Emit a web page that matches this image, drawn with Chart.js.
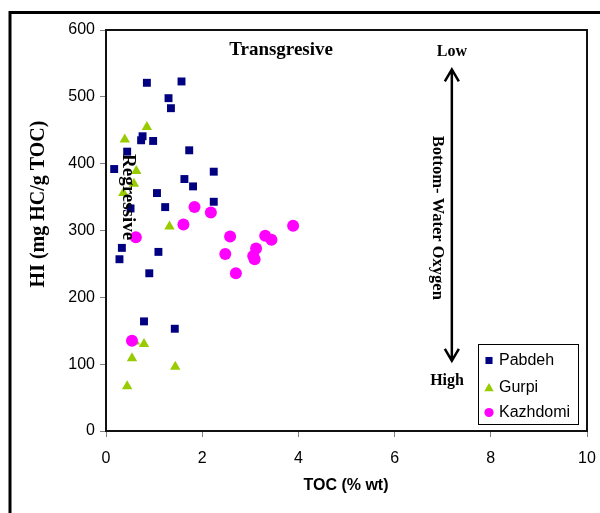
<!DOCTYPE html>
<html>
<head>
<meta charset="utf-8">
<script src="https://cdn.jsdelivr.net/npm/chart.js@4.4.1/dist/chart.umd.min.js"></script>
<style>
    html, body { margin: 0; padding: 0; background: #fff; }
    canvas { display: block; }
</style>
</head>
<body>
<canvas id="grafico" width="600" height="513"></canvas>
<script>
// TOC (% wt) x HI (mg HC/g TOC) por formação
const pabdehToc = [0.85, 1.57, 1.30, 1.35, 0.76, 0.73, 0.98, 1.73, 0.44, 0.17, 2.24, 1.63, 1.81, 1.06, 2.24, 1.23, 0.51, 0.33, 1.09, 0.28, 0.90, 0.79, 1.43];
const pabdehHi  = [521, 523, 498, 483, 441, 435, 434, 420, 418, 392, 388, 377, 366, 356, 343, 335, 333, 274, 268, 257, 236, 164, 153];

const gurpiToc = [0.85, 0.39, 0.63, 0.58, 0.36, 1.32, 0.60, 0.79, 0.54, 1.44, 0.44];
const gurpiHi  = [455, 436, 389, 370, 356, 306, 134, 130, 109, 96, 67];

const kazhdomiToc = [1.84, 2.18, 1.61, 3.89, 2.58, 3.31, 3.44, 3.12, 2.48, 3.06, 3.09, 2.70, 0.62, 0.54];
const kazhdomiHi  = [335, 327, 309, 307, 291, 292, 286, 273, 265, 262, 257, 236, 290, 135];

const ticksX = [0, 2, 4, 6, 8, 10];
const ticksY = [0, 100, 200, 300, 400, 500, 600];

const serif = "'Liberation Serif', 'Times New Roman', serif";
const sans = "'Liberation Sans', Arial, sans-serif";

Chart.defaults.font.family = sans;
Chart.defaults.color = '#000';

function pontos(xs, ys){
    return xs.map((x, i) => ({ x: x, y: ys[i] }));
}

// moldura externa, borda da área do gráfico, textos e legenda
const extras = {
    id: 'extras',
    beforeDraw(chart){
        const ctx = chart.ctx;
        ctx.save();
        ctx.fillStyle = '#fff';
        ctx.fillRect(0, 0, chart.width, chart.height);
        ctx.strokeStyle = '#000';
        ctx.lineWidth = 3;
        ctx.beginPath();
        ctx.moveTo(10, chart.height + 5);
        ctx.lineTo(10, 12.5);
        ctx.lineTo(chart.width + 5, 12.5);
        ctx.stroke();
        ctx.restore();
    },
    beforeDatasetsDraw(chart){
        const { ctx, chartArea: a } = chart;
        ctx.save();
        ctx.strokeStyle = '#111';
        ctx.lineWidth = 2;
        ctx.strokeRect(a.left, a.top, a.right - a.left, a.bottom - a.top);
        ctx.restore();
    },
    afterDatasetsDraw(chart){
        const ctx = chart.ctx;
        const sx = chart.scales.x, sy = chart.scales.y;
        const px = v => sx.getPixelForValue(v);
        const py = v => sy.getPixelForValue(v);

        ctx.save();
        ctx.fillStyle = '#000';
        ctx.textAlign = 'center';
        ctx.textBaseline = 'middle';

        ctx.font = 'bold 19px ' + serif;
        ctx.fillText('Transgresive', px(3.64), py(570));

        // Regressive na vertical
        ctx.save();
        ctx.translate(px(0.46), py(350));
        ctx.rotate(Math.PI / 2);
        ctx.fillText('Regressive', 0, 0);
        ctx.restore();

        // seta dupla do oxigênio de fundo
        const ax = px(7.19), topo = py(541), base = py(105);
        ctx.strokeStyle = '#000';
        ctx.lineWidth = 2.5;
        ctx.beginPath();
        ctx.moveTo(ax, topo);
        ctx.lineTo(ax, base);
        ctx.moveTo(ax - 7, topo + 12);
        ctx.lineTo(ax, topo);
        ctx.lineTo(ax + 7, topo + 12);
        ctx.moveTo(ax - 7, base - 12);
        ctx.lineTo(ax, base);
        ctx.lineTo(ax + 7, base - 12);
        ctx.stroke();

        ctx.font = 'bold 16px ' + serif;
        ctx.fillText('Low', px(7.19), py(568));
        ctx.fillText('High', px(7.09), py(75));

        ctx.save();
        ctx.translate(px(6.88), py(319));
        ctx.rotate(Math.PI / 2);
        ctx.font = 'bold 16.5px ' + serif;
        ctx.fillText('Bottom- Water Oxygen', 0, 0);
        ctx.restore();

        ctx.restore();
    },
    afterDraw(chart){
        const ctx = chart.ctx;
        ctx.save();
        ctx.fillStyle = '#000';
        ctx.textAlign = 'center';
        ctx.textBaseline = 'middle';

        // títulos dos eixos
        ctx.font = 'bold 16px ' + sans;
        ctx.fillText('TOC (% wt)', 346, 486);

        ctx.save();
        ctx.translate(39, 204);
        ctx.rotate(-Math.PI / 2);
        ctx.font = 'bold 20px ' + serif;
        ctx.fillText('HI (mg HC/g TOC)', 0, 0);
        ctx.restore();

        // legenda dentro da área do gráfico
        const lx = 478, ly = 344, lw = 100, lh = 80;
        ctx.fillStyle = '#fff';
        ctx.fillRect(lx, ly, lw, lh);
        ctx.strokeStyle = '#000';
        ctx.lineWidth = 1;
        ctx.strokeRect(lx + 0.5, ly + 0.5, lw, lh);

        const linhas = [360, 387, 412];
        const raios = { rect: 5, triangle: 5.5, circle: 4.6 };
        ctx.textAlign = 'left';
        ctx.font = '16px ' + sans;
        chart.data.datasets.forEach((ds, i) => {
            const y = linhas[i];
            ctx.fillStyle = ds.backgroundColor;
            Chart.helpers.drawPoint(ctx, {
                pointStyle: ds.pointStyle,
                radius: raios[ds.pointStyle],
                borderWidth: 0,
                rotation: 0
            }, 489, ds.pointStyle === 'triangle' ? y + 1.5 : y + 0.5);
            ctx.fillStyle = '#000';
            ctx.fillText(ds.label, 499, y + 1);
        });
        ctx.restore();
    }
};

const ctx = document.getElementById('grafico');

const grafico = new Chart(ctx, {
    type: 'scatter',
    data: {
        datasets: [
            {
                label: 'Pabdeh',
                data: pontos(pabdehToc, pabdehHi),
                pointStyle: 'rect',
                pointRadius: 5.6,
                backgroundColor: '#000080',
                borderColor: '#000080',
                borderWidth: 0,
                order: 3
            },
            {
                label: 'Gurpi',
                data: pontos(gurpiToc, gurpiHi),
                pointStyle: 'triangle',
                pointRadius: 6,
                backgroundColor: '#99CC00',
                borderColor: '#99CC00',
                borderWidth: 0,
                order: 2
            },
            {
                label: 'Kazhdomi',
                data: pontos(kazhdomiToc, kazhdomiHi),
                pointStyle: 'circle',
                pointRadius: 6,
                backgroundColor: '#FF00FF',
                borderColor: '#FF00FF',
                borderWidth: 0,
                order: 1
            }
        ]
    },
    options: {
        responsive: false,
        animation: false,
        events: [],
        layout: { padding: { top: 30, right: 13, left: 0, bottom: 0 } },
        plugins: {
            legend: { display: false },
            tooltip: { enabled: false }
        },
        scales: {
            x: {
                type: 'linear',
                min: 0,
                max: 10,
                afterBuildTicks: s => { s.ticks = ticksX.map(v => ({ value: v })); },
                // o "10" pode passar da borda direita
                afterFit: s => { s.height = 82; s.paddingRight = 0; s.paddingLeft = 0; },
                ticks: { font: { size: 16 }, color: '#000', padding: 12, maxRotation: 0 },
                grid: { drawOnChartArea: false, drawTicks: true, tickLength: 6, color: '#808080' },
                border: { display: false }
            },
            y: {
                type: 'linear',
                min: 0,
                max: 600,
                afterBuildTicks: s => { s.ticks = ticksY.map(v => ({ value: v })); },
                afterFit: s => { s.width = 106; },
                ticks: { font: { size: 16 }, color: '#000', padding: 5 },
                grid: { drawOnChartArea: false, drawTicks: true, tickLength: 6, color: '#808080' },
                border: { display: false }
            }
        }
    },
    plugins: [extras]
});
</script>
</body>
</html>
